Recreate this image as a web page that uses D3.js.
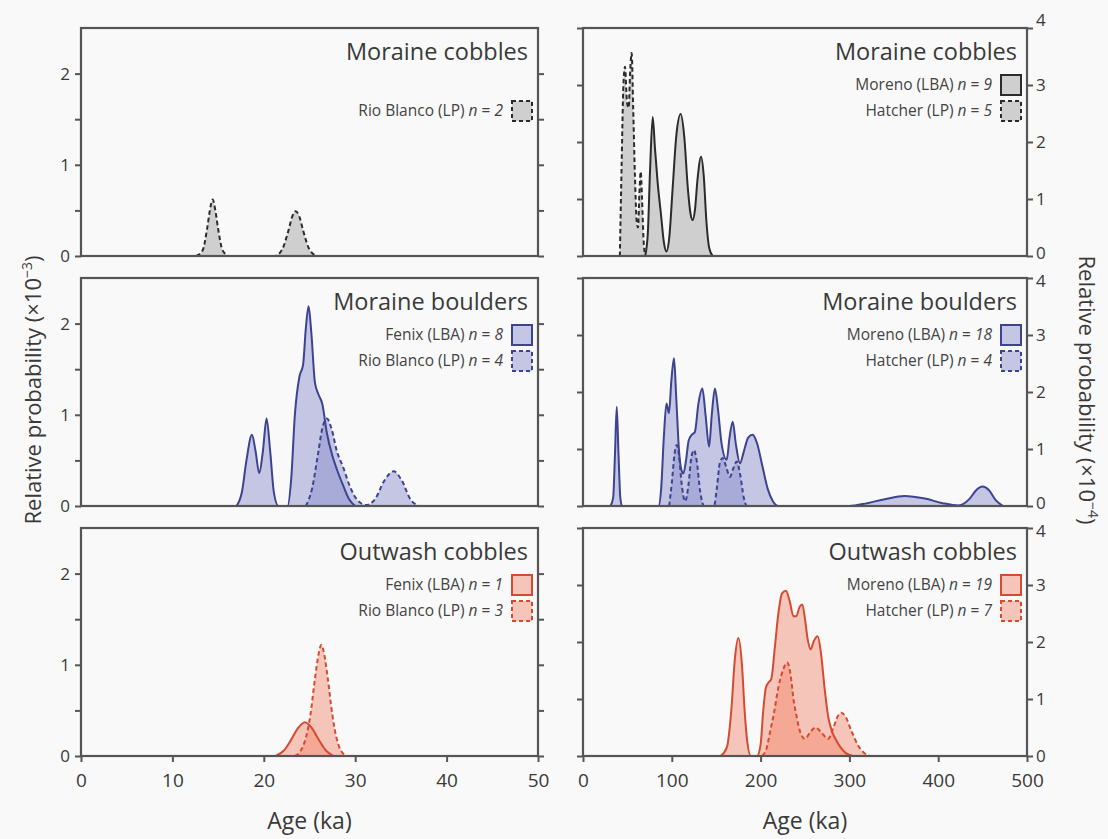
<!DOCTYPE html>
<html><head><meta charset="utf-8">
<script src="https://cdn.jsdelivr.net/npm/d3@7"></script>
<style>
html,body{margin:0;padding:0;background:#f9f9f9;}
svg{display:block;font-family:"Open Sans",sans-serif;}
</style></head>
<body><svg id="c" width="1108" height="839"></svg>
<script>
// ---------- data ----------
const panelTitles = ["Moraine cobbles","Moraine boulders","Outwash cobbles"];
const leftXTicks = [0,10,20,30,40,50];
const rightXTicks = [0,100,200,300,400,500];
const leftYTicks = [0,0.5,1,1.5,2];
const leftYLabels = ["0","","1","","2"];
const rightYTicks = [0,1,2,3,4];
const rightYLabels = ["0","1","2","3","4"];

// Top-left: Rio Blanco (LP) n=2
const tlRioBlanco = [[12.6,0],[13.3,0.06],[13.8,0.3],[14.1,0.5],[14.4,0.62],[14.7,0.5],[15.0,0.3],[15.5,0.06],[16.2,0],[21.2,0],[22.0,0.07],[22.7,0.28],[23.1,0.43],[23.5,0.49],[23.9,0.43],[24.3,0.28],[25.0,0.07],[25.8,0]];
// Top-right: Moreno (LBA) n=9, Hatcher (LP) n=5
const trMoreno = [[70,0],[73,0.4],[75.5,1.5],[78.5,2.44],[81,1.9],[84,1.3],[88,0.7],[91,0.25],[94,0.08],[97,0.3],[101,1.2],[105,2.1],[110,2.49],[114,2.1],[118,1.2],[121,0.75],[123.5,0.63],[126,0.8],[129,1.35],[133,1.74],[136,1.4],[139,0.6],[142,0.15],[146,0]];
const trHatcher = [[41.5,0],[43.5,1.6],[45.5,3.0],[47.3,3.32],[49.5,2.7],[51.5,2.6],[53,3.2],[54.8,3.56],[56.5,2.6],[58.5,1.4],[60.5,0.6],[62,0.5],[63.5,1.1],[65,1.48],[66.5,1.0],[68,0.35],[70,0]];
// Middle-left: Fenix (LBA) n=8, Rio Blanco (LP) n=4
const mlFenix = [[17.0,0],[17.6,0.15],[18.1,0.5],[18.7,0.78],[19.1,0.6],[19.5,0.36],[19.9,0.6],[20.3,0.96],[20.7,0.6],[21.1,0.15],[21.6,0],[22.6,0],[23.0,0.3],[23.4,1.0],[23.9,1.42],[24.3,1.55],[24.6,1.95],[24.9,2.19],[25.2,1.9],[25.6,1.35],[26.0,1.22],[26.4,1.12],[26.9,0.8],[27.5,0.55],[28.0,0.4],[28.7,0.22],[29.3,0.08],[30,0]];
const mlRioBlanco = [[24.6,0],[25.3,0.2],[25.9,0.55],[26.4,0.85],[26.9,0.96],[27.4,0.85],[28.0,0.6],[28.7,0.42],[29.4,0.22],[30.2,0.07],[31.2,0.01],[32.2,0.08],[33.2,0.28],[34.2,0.38],[35.1,0.28],[36.0,0.08],[37.0,0]];
// Middle-right: Moreno (LBA) n=18, Hatcher (LP) n=4
const mrMoreno = [[31,0],[34,0.15],[36,0.9],[38,1.74],[40,0.9],[42,0.15],[44,0],[85,0],[88,0.3],[91,1.2],[94,1.8],[96.8,1.63],[99.5,2.2],[102.5,2.59],[105,1.9],[108,1.0],[111,0.62],[113,0.57],[116,0.8],[119,1.15],[122.5,1.25],[126,1.3],[130,1.8],[134.4,2.06],[138,1.6],[142,1.04],[145,1.6],[148.6,2.06],[152,1.7],[156,1.1],[161.8,0.81],[165,1.2],[168.6,1.48],[172,1.1],[176.8,0.75],[181,0.95],[186,1.2],[191,1.25],[196,1.1],[202,0.7],[208,0.3],[214,0.08],[220,0],[300,0],[320,0.05],[340,0.12],[362,0.175],[385,0.13],[405,0.05],[423,0.01],[435,0.12],[443,0.28],[450,0.34],[457,0.28],[465,0.1],[473,0]];
const mrHatcher = [[97,0],[100,0.4],[103,0.9],[105.5,1.07],[108,0.9],[111,0.4],[115,0.08],[119,0.4],[122,0.85],[125,0.98],[128,0.8],[132,0.25],[136.5,0],[147.5,0],[151,0.35],[154,0.75],[157.3,0.84],[161,0.7],[165.5,0.51],[169,0.65],[173,0.78],[177,0.55],[181,0.15],[184,0]];
// Bottom-left: Fenix (LBA) n=1, Rio Blanco (LP) n=3
const blFenix = [[21.3,0],[22.2,0.06],[23.0,0.18],[23.7,0.3],[24.5,0.37],[25.3,0.3],[26.0,0.18],[26.8,0.06],[27.6,0]];
const blRioBlanco = [[23.4,0],[24.0,0.05],[24.6,0.2],[25.1,0.45],[25.6,0.85],[26.0,1.12],[26.3,1.22],[26.6,1.12],[27.0,0.85],[27.5,0.45],[28.0,0.18],[28.5,0.05],[29.1,0]];
// Bottom-right: Moreno (LBA) n=19, Hatcher (LP) n=7
const brMoreno = [[155,0],[162,0.15],[167,0.8],[171,1.7],[175,2.07],[179,1.6],[182,0.8],[185,0.25],[189,0],[196,0],[200,0.2],[203,0.8],[206,1.2],[209,1.29],[212,1.35],[216,1.9],[220,2.5],[224,2.85],[228.6,2.9],[233,2.7],[237,2.45],[240,2.45],[244,2.62],[247,2.66],[250,2.4],[253,2.05],[256.4,1.87],[260,2.02],[264.3,2.1],[268,1.8],[272,1.2],[276,0.7],[280,0.45],[285,0.28],[290,0.15],[296,0.05],[304,0]];
const brHatcher = [[202,0],[207,0.15],[211,0.45],[215,0.75],[220,1.2],[225,1.5],[230,1.64],[234,1.4],[237,1.0],[240.5,0.7],[244,0.45],[250,0.3],[256,0.42],[262,0.5],[268,0.42],[276,0.3],[282,0.5],[287,0.7],[291,0.76],[296,0.68],[302,0.45],[310,0.18],[317,0.05],[323,0]];

const legendNames = {
  tl: [["Rio Blanco (LP)","2"]],
  tr: [["Moreno (LBA)","9"],["Hatcher (LP)","5"]],
  ml: [["Fenix (LBA)","8"],["Rio Blanco (LP)","4"]],
  mr: [["Moreno (LBA)","18"],["Hatcher (LP)","4"]],
  bl: [["Fenix (LBA)","1"],["Rio Blanco (LP)","3"]],
  br: [["Moreno (LBA)","19"],["Hatcher (LP)","7"]]
};

// ---------- styles ----------
const palette = {
  gray: {fill:"#9c9c9c", stroke:"#2b2b2b"},
  blue: {fill:"#8488c8", stroke:"#3c4391"},
  red:  {fill:"#f2866a", stroke:"#d54a31"}
};
const frameColor = "#555";
const textColor = "#3a3a3a";

const svg = d3.select("#c");
const rowTops = [28, 278, 528];
const panelH = 228;
const colX = {L:[81,538], R:[583,1027]};

const panels = [
  {row:0,col:"L",key:"tl",color:"gray",series:[{d:tlRioBlanco,dash:true}],legendStart:1},
  {row:0,col:"R",key:"tr",color:"gray",series:[{d:trMoreno,dash:false},{d:trHatcher,dash:true}],legendStart:0},
  {row:1,col:"L",key:"ml",color:"blue",series:[{d:mlFenix,dash:false},{d:mlRioBlanco,dash:true}],legendStart:0},
  {row:1,col:"R",key:"mr",color:"blue",series:[{d:mrMoreno,dash:false},{d:mrHatcher,dash:true}],legendStart:0},
  {row:2,col:"L",key:"bl",color:"red",series:[{d:blFenix,dash:false},{d:blRioBlanco,dash:true}],legendStart:0},
  {row:2,col:"R",key:"br",color:"red",series:[{d:brMoreno,dash:false},{d:brHatcher,dash:true}],legendStart:0}
];

panels.forEach(p => {
  const top = rowTops[p.row], bottom = top + panelH;
  const isL = p.col === "L";
  const x = d3.scaleLinear().domain(isL ? [0,50] : [0,500]).range(colX[p.col]);
  const y = d3.scaleLinear().domain(isL ? [0,2.5] : [0,4]).range([bottom, top]);
  const g = svg.append("g");
  const col = palette[p.color];

  const area = d3.area().x(d=>x(d[0])).y0(y(0)).y1(d=>y(d[1])).curve(d3.curveMonotoneX);
  const line = d3.line().x(d=>x(d[0])).y(d=>y(d[1])).curve(d3.curveMonotoneX);

  p.series.forEach(s => {
    g.append("path").attr("d", area(s.d)).attr("fill", col.fill).attr("fill-opacity", 0.45);
  });
  p.series.forEach(s => {
    g.append("path").attr("d", line(s.d)).attr("fill","none")
      .attr("stroke", col.stroke).attr("stroke-width", 2)
      .attr("stroke-dasharray", s.dash ? "4.5,3" : null).attr("stroke-linejoin","round");
  });

  g.append("rect").attr("x", x.range()[0]).attr("y", top)
    .attr("width", x.range()[1]-x.range()[0]).attr("height", panelH)
    .attr("fill","none").attr("stroke", frameColor).attr("stroke-width", 2.2);

  const ticks = isL ? leftYTicks : rightYTicks;
  const labels = isL ? leftYLabels : rightYLabels;
  const axL = d3.axisLeft(y).tickValues(ticks).tickSize(6).tickPadding(5).tickFormat((d,i)=> isL ? labels[i] : "");
  const axR = d3.axisRight(y).tickValues(ticks).tickSize(6).tickPadding(3).tickFormat((d,i)=> isL ? "" : labels[i]);
  [ [axL, x.range()[0]], [axR, x.range()[1]] ].forEach(([ax, xp]) => {
    const a = g.append("g").attr("transform", `translate(${xp},0)`).call(ax);
    a.select(".domain").remove();
    a.selectAll("line").attr("stroke", frameColor).attr("stroke-width", 2);
    a.selectAll("text").attr("fill", textColor).style("font-size","17px").style("font-family","Open Sans, sans-serif");
    if (!isL) {
      // keep stacked 0 / 4 labels between panels apart
      a.selectAll(".tick").filter(d => d === 4).select("text").attr("dy", p.row === 0 ? "-0.12em" : "0.48em");
      a.selectAll(".tick").filter(d => d === 0).select("text").attr("dy", p.row === 2 ? "0.32em" : "0.16em");
    }
  });

  if (p.row === 2) {
    const axB = d3.axisBottom(x).tickValues(isL ? leftXTicks : rightXTicks).tickSize(6).tickPadding(12);
    const a = g.append("g").attr("transform", `translate(0,${bottom})`).call(axB);
    a.select(".domain").remove();
    a.selectAll("line").attr("stroke", frameColor).attr("stroke-width", 2);
    a.selectAll("text").attr("fill", textColor).style("font-size","19px").style("font-family","Open Sans, sans-serif");
    g.append("text").attr("x", (x.range()[0]+x.range()[1])/2).attr("y", 829)
      .attr("text-anchor","middle").attr("fill", textColor).style("font-size","23px").text("Age (ka)");
  }

  const rEdge = x.range()[1];
  g.append("text").attr("x", rEdge - 10).attr("y", top + 32).attr("text-anchor","end")
    .attr("fill", textColor).style("font-size","23.5px").text(panelTitles[p.row]);

  const rowsY = [top + 57, top + 83];
  legendNames[p.key].forEach((ln, i) => {
    const cy = rowsY[i + p.legendStart];
    const s = p.series[i];
    const sx = rEdge - 26;
    g.append("rect").attr("x", sx).attr("y", cy - 10).attr("width", 20).attr("height", 20)
      .attr("fill", col.fill).attr("fill-opacity", 0.45)
      .attr("stroke", col.stroke).attr("stroke-width", 2)
      .attr("stroke-dasharray", s.dash ? "4,3" : null);
    const t = g.append("text").attr("x", sx - 9).attr("y", cy + 5).attr("text-anchor","end")
      .attr("fill", "#444").style("font-size","15.5px");
    t.append("tspan").text(ln[0] + " ");
    t.append("tspan").style("font-style","italic").text("n");
    t.append("tspan").text(" = ");
    t.append("tspan").style("font-style","italic").text(ln[1]);
  });
});

svg.append("text").attr("transform","translate(41,390) rotate(-90)").attr("text-anchor","middle")
  .attr("fill", textColor).style("font-size","22px")
  .html('Relative probability (×10<tspan dy="-9" font-size="14">−3</tspan><tspan dy="9">)</tspan>');
svg.append("text").attr("transform","translate(1079,390) rotate(90)").attr("text-anchor","middle")
  .attr("fill", textColor).style("font-size","22px")
  .html('Relative probability (×10<tspan dy="-9" font-size="14">−4</tspan><tspan dy="9">)</tspan>');
</script></body></html>
